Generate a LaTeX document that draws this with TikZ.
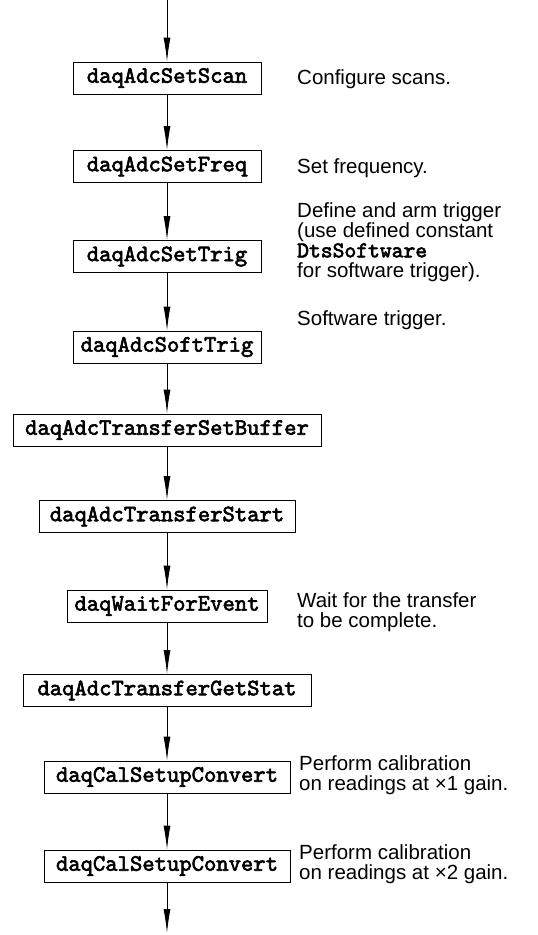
\documentclass[tikz,border=0pt]{standalone}
\usepackage{fontspec}
\setmainfont{Liberation Sans}
\newfontfamily\callfont[FakeBold=2.6]{lmmono10-regular.otf}
\usetikzlibrary{arrows.meta}
\begin{document}
\begin{tikzpicture}[x=1pt,y=-1pt,
    call/.style={draw,line width=0.9pt,inner xsep=3pt,inner ysep=0pt,
      minimum height=32pt,font=\fontsize{23.5}{20}\selectfont\callfont},
    note/.style={anchor=west,align=left,inner sep=0pt,
      font=\fontsize{20.5}{20}\selectfont}]
      \useasboundingbox (0,0) rectangle (538,935);
      \draw
        (167,78) node[call,minimum width=188pt] (scan){daqAdcSetScan}
        (167,166.5) node[call,minimum width=188pt] (freq){daqAdcSetFreq}
        (167,256.5) node[call,minimum width=188pt] (trig){daqAdcSetTrig}
        (167,347) node[call,minimum width=188pt] (soft){daqAdcSoftTrig}
        (167,430) node[call,minimum width=308pt] (buffer){daqAdcTransferSetBuffer}
        (167,516.5) node[call,minimum width=256pt] (start){daqAdcTransferStart}
        (167,606) node[call,minimum width=200pt] (wait){daqWaitForEvent}
        (167,690.5) node[call,minimum width=288pt] (stat){daqAdcTransferGetStat}
        (167,777) node[call,minimum width=246pt] (calone){daqCalSetupConvert}
        (167,866) node[call,minimum width=246pt] (caltwo){daqCalSetupConvert};
      \coordinate (in) at (167,0);
      \coordinate (out) at (167,933);
      \begin{scope}[-{Latex[length=24pt,width=7pt]},line width=0.9pt]
        \draw (in) to (scan);
        \draw (scan) to (freq);
        \draw (freq) to (trig);
        \draw (trig) to (soft);
        \draw (soft) to (buffer);
        \draw (buffer) to (start);
        \draw (start) to (wait);
        \draw (wait) to (stat);
        \draw (stat) to (calone);
        \draw (calone) to (caltwo);
        \draw (caltwo) to (out);
      \end{scope}
      \draw
        (297,79) node[note] (scannote){Configure scans.}
        (297,168) node[note] (freqnote){Set frequency.}
        (297,242) node[note] (trignote){Define and arm trigger\\(use defined constant\\{\fontsize{22.5}{20}\selectfont\callfont DtsSoftware}\\for software trigger).}
        (297,320) node[note] (softnote){Software trigger.}
        (297,612) node[note] (waitnote){Wait for the transfer\\to be complete.}
        (299,775) node[note] (calonenote){Perform calibration\\on readings at ×1 gain.}
        (299,864) node[note] (caltwonote){Perform calibration\\on readings at ×2 gain.};
    \end{tikzpicture}
\end{document}
